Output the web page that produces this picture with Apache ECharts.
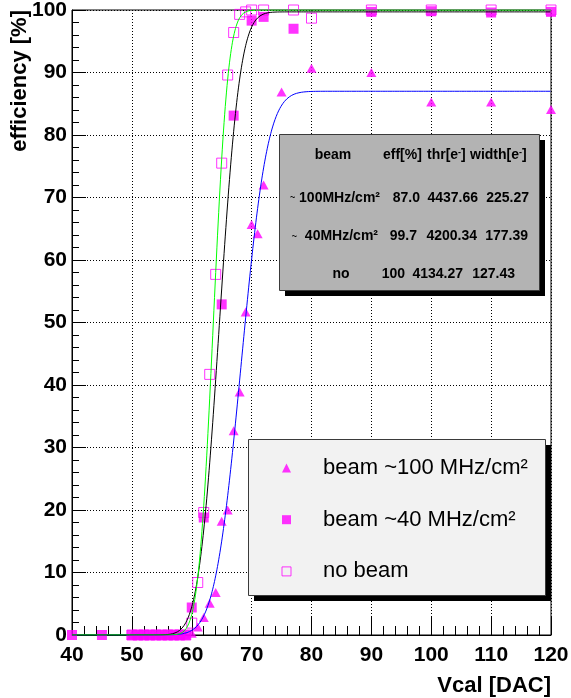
<!DOCTYPE html>
<html>
<head>
<meta charset="utf-8">
<title>Efficiency vs Vcal</title>
<script src="https://cdn.jsdelivr.net/npm/echarts@6/dist/echarts.min.js"></script>
<style>
  html, body { margin: 0; padding: 0; background: #fff; }
  #chart { width: 571px; height: 698px; }
</style>
</head>
<body>
<div id="chart"></div>
<script>
// Measured efficiency [%] versus Vcal [DAC] for three beam conditions
const vcalHigh = [50, 51, 52, 53, 54, 55, 56, 57, 58, 59, 60, 61, 62, 63, 64, 65, 66, 67, 68, 69, 70, 71, 72, 75, 80, 90, 100, 110, 120];
const effHigh  = [0, 0, 0, 0, 0, 0, 0, 0, 0, 0, 0.3, 1.3, 2.8, 5.1, 6.8, 18.2, 20.0, 32.7, 38.9, 51.7, 65.7, 64.2, 72.0, 86.9, 90.7, 90.0, 85.3, 85.3, 84.1];

const vcalMid = [40, 45, 50, 51, 52, 53, 54, 55, 56, 57, 58, 59, 60, 62, 65, 67, 70, 72, 77, 90, 100, 110, 120];
const effMid  = [0, 0, 0, 0, 0, 0, 0, 0, 0, 0, 0, 0, 4.4, 18.8, 52.9, 83.1, 98.3, 98.9, 97.0, 99.7, 99.8, 99.6, 99.7];

const vcalNone = [50, 51, 52, 53, 54, 55, 56, 57, 58, 59, 60, 61, 62, 63, 64, 65, 66, 67, 68, 69, 70, 72, 77, 80, 90, 100, 110, 120];
const effNone  = [0, 0, 0, 0, 0, 0, 0, 0, 0, 0, 1.9, 8.4, 19.6, 41.7, 57.7, 75.5, 89.6, 96.4, 99.3, 99.7, 100, 100, 100, 98.7, 100, 100, 100, 100];

// Fit results (error-function turn-on), one row per beam condition
const statBeam  = ['~ 100MHz/cm²', '~  40MHz/cm²', 'no'];
const statEff   = ['87.0', '99.7', '100'];
const statThr   = ['4437.66', '4200.34', '4134.27'];
const statWidth = ['225.27', '177.39', '127.43'];

const seriesNames = ['beam ~100 MHz/cm²', 'beam ~40 MHz/cm²', 'no beam'];
const fitColors = ['#0000ff', '#000000', '#00ff00'];

const xTicks = [40, 50, 60, 70, 80, 90, 100, 110, 120];
const yTicks = [0, 10, 20, 30, 40, 50, 60, 70, 80, 90, 100];

// Vcal calibration used to convert the fitted electron values back to DAC units
const ELECTRONS_PER_VCAL = 65;

function erf(x) {
  const s = x < 0 ? -1 : 1;
  x = Math.abs(x);
  const t = 1 / (1 + 0.3275911 * x);
  const y = 1 - (((((1.061405429 * t - 1.453152027) * t) + 1.421413741) * t - 0.284496736) * t + 0.254829592) * t * Math.exp(-x * x);
  return s * y;
}

function fitCurve(i) {
  const eff = parseFloat(statEff[i]);
  const thr = parseFloat(statThr[i]) / ELECTRONS_PER_VCAL;
  const w = parseFloat(statWidth[i]) / ELECTRONS_PER_VCAL;
  const pts = [];
  for (let k = 0; k <= 800; k++) {
    const x = xTicks[0] + k * 0.1;
    pts.push([x, eff / 2 * (1 + erf((x - thr) / (Math.SQRT2 * w)))]);
  }
  return pts;
}

const zip = (xs, ys) => xs.map((x, i) => [x, ys[i]]);

const FONT = '"Liberation Sans", Arial, Helvetica, sans-serif';
const MAGENTA = '#ff00ff';

const chart = echarts.init(document.getElementById('chart'), null, { renderer: 'canvas' });

// Stats box with the fit parameters
const statRows = [198, 236.5, 274];
const labelRight = [380, 378, null];
const effRight = [420, 417, 405];
const thrRight = [478, 477, 463];
const widthRight = [529, 528, 515];

const boldText = (text, x, y, align, extra) => ({
  type: 'text', x: x, y: y, z: 102,
  style: Object.assign({
    text: text, fontFamily: FONT, fontWeight: 'bold', fontSize: 14,
    fill: '#000', align: align, verticalAlign: 'middle'
  }, extra || {})
});

const richRow = {
  t: { fontSize: 9, fontWeight: 'bold', fontFamily: FONT, fill: '#000' },
  m: { fontSize: 14, fontWeight: 'bold', fontFamily: FONT, fill: '#000' }
};
const richSup = {
  s: { fontSize: 9, fontWeight: 'bold', fontFamily: FONT, verticalAlign: 'top', fill: '#000' }
};

const tableElements = [
  { type: 'rect', z: 100, shape: { x: 285, y: 140, width: 260, height: 156 }, style: { fill: '#000' } },
  { type: 'rect', z: 101, shape: { x: 279.5, y: 134.5, width: 260, height: 156 }, style: { fill: '#b3b3b3', stroke: '#3a3a3a', lineWidth: 1 } },
  boldText('beam', 333, 155, 'center'),
  boldText('eff[%]', 383, 155, 'left'),
  boldText('thr[e{s|-}]', 427, 155, 'left', { rich: richSup }),
  boldText('width[e{s|-}]', 470, 155, 'left', { rich: richSup })
];
statBeam.forEach((b, i) => {
  const y = statRows[i];
  if (labelRight[i] !== null) {
    tableElements.push(boldText('{t|~}{m|' + b.slice(1) + '}', labelRight[i], y, 'right', { rich: richRow }));
  } else {
    tableElements.push(boldText(b, 341, y, 'center'));
  }
  tableElements.push(boldText(statEff[i], effRight[i], y, 'right'));
  tableElements.push(boldText(statThr[i], thrRight[i], y, 'right'));
  tableElements.push(boldText(statWidth[i], widthRight[i], y, 'right'));
});

// Legend frame (entries come from the legend component)
const legendFrame = [
  { type: 'rect', z: 100, shape: { x: 254, y: 445, width: 297, height: 156 }, style: { fill: '#000' } },
  { type: 'rect', z: 101, shape: { x: 248.5, y: 439.5, width: 297, height: 156 }, style: { fill: '#f2f2f2', stroke: '#3a3a3a', lineWidth: 1 } }
];

// Vertical title of the efficiency axis, reading bottom to top, ending at the plot top
const yTitle = {
  type: 'text', x: 20, y: 10, rotation: Math.PI / 2, z: 102,
  style: { text: 'efficiency [%]', fontFamily: FONT, fontWeight: 'bold', fontSize: 22, fill: '#000', align: 'right', verticalAlign: 'middle' }
};

const option = {
  animation: false,
  backgroundColor: '#fff',
  grid: {
    left: 72, top: 10, width: 479, height: 625,
    containLabel: false, outerBoundsMode: 'none',
    show: true, borderColor: '#000', borderWidth: 1, backgroundColor: 'transparent'
  },
  xAxis: {
    type: 'value', min: xTicks[0], max: xTicks[xTicks.length - 1], interval: 10,
    name: 'Vcal [DAC]', nameLocation: 'end', nameGap: 0,
    nameTextStyle: { fontFamily: FONT, fontWeight: 'bold', fontSize: 22, color: '#000', align: 'right', verticalAlign: 'top', padding: [40, 0, 0, 0] },
    axisLine: { show: true, lineStyle: { color: '#000', width: 1 } },
    axisTick: { show: true, inside: true, length: 18, lineStyle: { color: '#000' } },
    minorTick: { show: true, splitNumber: 5, length: 9, lineStyle: { color: '#000' } },
    axisLabel: { fontFamily: FONT, fontWeight: 'bold', fontSize: 21, color: '#000', margin: 10, showMinLabel: true, showMaxLabel: true },
    splitLine: { show: true, lineStyle: { color: '#000', width: 1, type: [1, 2] } },
    minorSplitLine: { show: false }
  },
  yAxis: {
    type: 'value', min: yTicks[0], max: yTicks[yTicks.length - 1], interval: 10,
    axisLine: { show: true, lineStyle: { color: '#000', width: 1 } },
    axisTick: { show: true, inside: true, length: 14, lineStyle: { color: '#000' } },
    minorTick: { show: true, splitNumber: 5, length: 7, lineStyle: { color: '#000' } },
    axisLabel: { fontFamily: FONT, fontWeight: 'bold', fontSize: 21, color: '#000', margin: 5 },
    splitLine: { show: true, lineStyle: { color: '#000', width: 1, type: [1, 2] } },
    minorSplitLine: { show: false }
  },
  legend: {
    orient: 'vertical', left: 276.5, top: 450, itemWidth: 9, itemHeight: 9, itemGap: 25.7,
    selectedMode: false, z: 110,
    textStyle: { fontFamily: FONT, fontSize: 22, color: '#000', lineHeight: 26, padding: [0, 0, 0, 27] },
    data: [
      { name: seriesNames[0], icon: 'triangle' },
      { name: seriesNames[1], icon: 'rect' },
      { name: seriesNames[2], icon: 'rect', itemStyle: { color: 'rgba(0,0,0,0)', borderColor: MAGENTA, borderWidth: 1 } }
    ]
  },
  graphic: tableElements.concat(legendFrame, [yTitle]),
  series: [
    { name: seriesNames[0], type: 'scatter', symbol: 'triangle', symbolSize: [10, 9], itemStyle: { color: MAGENTA }, data: zip(vcalHigh, effHigh), z: 2 },
    { name: seriesNames[1], type: 'scatter', symbol: 'rect', symbolSize: 10, itemStyle: { color: MAGENTA }, data: zip(vcalMid, effMid), z: 2 },
    { name: seriesNames[2], type: 'scatter', symbol: 'rect', symbolSize: 10, itemStyle: { color: 'rgba(0,0,0,0)', borderColor: MAGENTA, borderWidth: 1 }, data: zip(vcalNone, effNone), z: 2 },
    { name: 'fit high', type: 'line', showSymbol: false, symbol: 'none', clip: true, lineStyle: { color: fitColors[0], width: 1 }, data: fitCurve(0), z: 3, silent: true },
    { name: 'fit mid', type: 'line', showSymbol: false, symbol: 'none', clip: true, lineStyle: { color: fitColors[1], width: 1 }, data: fitCurve(1), z: 3, silent: true },
    { name: 'fit none', type: 'line', showSymbol: false, symbol: 'none', clip: true, lineStyle: { color: fitColors[2], width: 1 }, data: fitCurve(2), z: 3, silent: true }
  ]
};

chart.setOption(option);
</script>
</body>
</html>
